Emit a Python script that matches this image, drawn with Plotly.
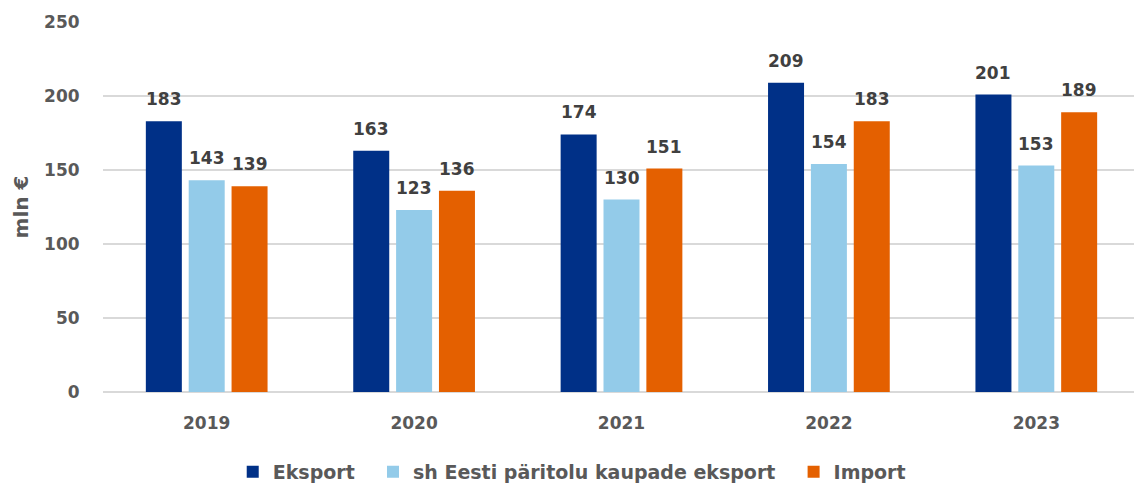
import plotly.graph_objects as go

years = ["2019", "2020", "2021", "2022", "2023"]
eksport = [183, 163, 174, 209, 201]
eesti = [143, 123, 130, 154, 153]
imports = [139, 136, 151, 183, 189]

series = [
    ("Eksport", eksport, "#003087"),
    ("sh Eesti päritolu kaupade eksport", eesti, "#93CBE9"),
    ("Import", imports, "#E46000"),
]

FONT = "DejaVu Sans"
AX = "#595959"
LBL = "#404040"
W, H = 1142, 483
ML, MR, MT, MB = 95, 10, 14, 99
BARGAP, GROUPGAP = 0.38, 0.16

cat_px = (W - ML - MR) / len(years)
slot_px = cat_px * (1 - BARGAP) / len(series)

fig = go.Figure()
annotations = []
for i, (name, vals, col) in enumerate(series):
    pad = "\u00a0" * 2 if i < len(series) - 1 else ""
    fig.add_trace(go.Bar(
        x=years, y=vals, name=name + pad, marker_color=col,
        marker_line_width=0,
    ))
    for j, v in enumerate(vals):
        annotations.append(dict(
            x=j, y=v, xref="x", yref="y", text=str(v), showarrow=False,
            xshift=(i - 1) * slot_px, yanchor="bottom", yshift=10,
            font=dict(family=FONT, size=17, color=LBL, weight="bold"),
        ))

fig.update_layout(
    width=W, height=H,
    margin=dict(l=ML, r=MR, t=MT, b=MB, autoexpand=False),
    paper_bgcolor="white", plot_bgcolor="white",
    barmode="group", bargap=BARGAP, bargroupgap=GROUPGAP,
    font=dict(family=FONT, color=AX, size=16),
    annotations=annotations,
    showlegend=True,
    legend=dict(orientation="h", x=0.452, xanchor="center",
                yref="container", y=19 / H, yanchor="middle",
                font=dict(family=FONT, size=19, color=AX, weight="bold"),
                itemsizing="constant", traceorder="normal"),
    yaxis=dict(range=[0, 250], dtick=50, showgrid=True, gridcolor="#D9D9D9", gridwidth=1.5,
               zeroline=True, zerolinecolor="#D9D9D9", zerolinewidth=1.5,
               tickfont=dict(family=FONT, size=17, color=AX, weight="bold"),
               ticks="outside", ticklen=19, tickcolor="rgba(0,0,0,0)", automargin=False,
               title=dict(text="mln €", font=dict(family=FONT, size=20, color=AX, weight="bold"), standoff=10)),
    xaxis=dict(range=[-0.5, 4.5], tickfont=dict(family=FONT, size=17, color=AX, weight="bold"),
               showline=False, ticks="outside", ticklen=16, tickcolor="rgba(0,0,0,0)", automargin=False),
)

fig.write_html("out.html")
